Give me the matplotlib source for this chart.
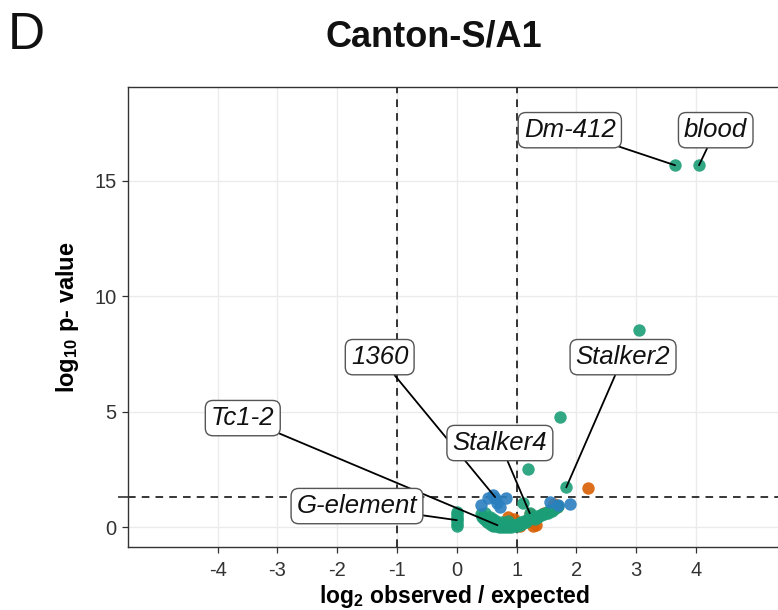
import matplotlib
matplotlib.use("Agg")
import matplotlib.pyplot as plt
from matplotlib import font_manager

plt.rcParams['font.family'] = ['Liberation Sans', 'DejaVu Sans']
plt.rcParams['mathtext.fontset'] = 'custom'
plt.rcParams['mathtext.rm'] = 'Liberation Sans'
plt.rcParams['mathtext.bf'] = 'Liberation Sans:bold'
plt.rcParams['axes.unicode_minus'] = False

names = {f.name for f in font_manager.fontManager.ttflist}
TITLE_FONT = 'Liberation Sans Narrow' if 'Liberation Sans Narrow' in names else 'Liberation Sans'

# ---- data ----
green_x = [0, 0, 0, 0, 0, 0, 0,
           0.40, 0.42, 0.45, 0.48, 0.50, 0.52, 0.55, 0.58, 0.60, 0.62, 0.65, 0.68,
           0.70, 0.72, 0.75, 0.78, 0.80, 0.82, 0.85, 0.88, 0.90, 0.93, 0.95, 0.98,
           1.00, 1.03, 1.05, 1.08, 1.10, 1.12, 1.15, 1.18, 1.20, 1.22, 1.25, 1.28,
           1.30, 1.33, 1.36, 1.40, 1.43, 1.46, 1.50, 1.53, 1.56, 1.60, 1.63, 1.67,
           1.70, 0.47, 0.55, 0.60, 0.65, 0.75, 0.85, 1.10,
           1.19, 1.72, 1.83, 3.04, 3.65, 4.05]
green_y = [0.05, 0.15, 0.25, 0.35, 0.45, 0.55, 0.65,
           0.55, 0.45, 0.35, 0.30, 0.20, 0.25, 0.15, 0.10, 0.05, 0.12, 0.03, 0.08,
           0.02, 0.06, 0.01, 0.04, 0.00, 0.03, 0.01, 0.05, 0.02, 0.08, 0.04, 0.10,
           0.06, 0.14, 0.10, 0.20, 0.16, 0.25, 0.22, 0.30, 0.35, 0.60, 0.38, 0.42,
           0.36, 0.48, 0.45, 0.52, 0.58, 0.55, 0.65, 0.62, 0.72, 0.70, 0.80, 0.85,
           0.90, 0.60, 0.45, 0.35, 0.25, 0.20, 0.25, 1.05,
           2.50, 4.78, 1.72, 8.53, 15.67, 15.67]

orange_x = [0.85, 0.95, 1.22, 1.28, 1.32, 1.62, 1.68, 2.20, 1.05, 1.45]
orange_y = [0.45, 0.35, 0.55, 0.05, 0.10, 1.00, 0.85, 1.70, 0.05, 0.60]

blue_x = [0.41, 0.52, 0.61, 0.64, 0.68, 0.72, 0.83, 1.56, 1.69, 1.89]
blue_y = [0.95, 1.25, 1.39, 1.25, 1.05, 0.88, 1.24, 1.10, 0.95, 1.02]

label_names = ['Dm-412', 'blood', 'Stalker2', '1360', 'Tc1-2', 'Stalker4', 'G-element']
label_px = [3.65, 4.05, 1.83, 0.64, 0.68, 1.22, 0.0]
label_py = [15.67, 15.67, 1.72, 1.30, 0.08, 0.60, 0.30]
label_tx = [1.89, 4.33, 2.78, -1.29, -3.58, 0.72, -1.67]
label_ty = [17.19, 17.19, 7.36, 7.36, 4.72, 3.64, 0.91]

p_threshold = 1.3
fc_lines = [-1, 1]

GREEN = '#1b9e77'
ORANGE = '#d95f02'
BLUE = '#2b7fbf'

fig = plt.figure(figsize=(7.78, 6.10), dpi=100)
ax = fig.add_axes([0.1645, 0.103, 0.84, 0.754])

ax.set_xlim(-5.5, 5.43)
ax.set_ylim(-0.87, 19.05)

ax.set_xticks([-4, -3, -2, -1, 0, 1, 2, 3, 4])
ax.set_yticks([0, 5, 10, 15])
ax.set_xticks(fc_lines, minor=True)
ax.set_yticks([p_threshold], minor=True)
ax.grid(True, which='major', color='#ebebeb', linewidth=1.0, zorder=0)
ax.set_axisbelow(True)

for s in ax.spines.values():
    s.set_color('#333333')
    s.set_linewidth(1.0)

ax.tick_params(which='major', length=4, width=0.9, color='#333333',
               labelsize=14.5, labelcolor='#333333', pad=4)
ax.tick_params(which='minor', length=7, width=1.1, color='#222222')
ax.tick_params(axis='x', which='major', pad=6)

ax.axhline(p_threshold, color='black', linestyle=(0, (5, 4)), linewidth=1.1, zorder=1)
for v in fc_lines:
    ax.axvline(v, color='black', linestyle=(0, (5, 4)), linewidth=1.1, zorder=1)

ax.scatter(orange_x, orange_y, s=80, color=ORANGE, alpha=0.9, linewidths=0, zorder=3)
ax.scatter(green_x, green_y, s=80, color=GREEN, alpha=0.9, linewidths=0, zorder=3)
ax.scatter(blue_x, blue_y, s=80, color=BLUE, alpha=0.9, linewidths=0, zorder=3)

for name, px, py, tx, ty in zip(label_names, label_px, label_py, label_tx, label_ty):
    ax.annotate(name, xy=(px, py), xytext=(tx, ty), textcoords='data',
                ha='center', va='center', fontsize=18.5, style='italic', color='#111111',
                bbox=dict(boxstyle='round,pad=0.22,rounding_size=0.3',
                          fc='white', ec='#555555', lw=1.0),
                arrowprops=dict(arrowstyle='-', color='black', lw=1.3,
                                shrinkA=0, shrinkB=0),
                zorder=5)

ax.set_xlabel(r'$\mathbf{log_2}$ observed / expected', fontsize=16.5,
              fontweight='bold', labelpad=2)
ax.set_ylabel(r'$\mathbf{log_{10}}$ p- value', fontsize=17,
              fontweight='bold', labelpad=10)

fig.text(0.557, 0.940, 'Canton-S/A1', ha='center', va='center',
         fontsize=26, fontweight='bold', color='#111111',
         family=[TITLE_FONT, 'Liberation Sans'])
fig.text(0.010, 0.942, 'D', ha='left', va='center', fontsize=37, color='#111111')

fig.savefig('out.png', dpi=100)
